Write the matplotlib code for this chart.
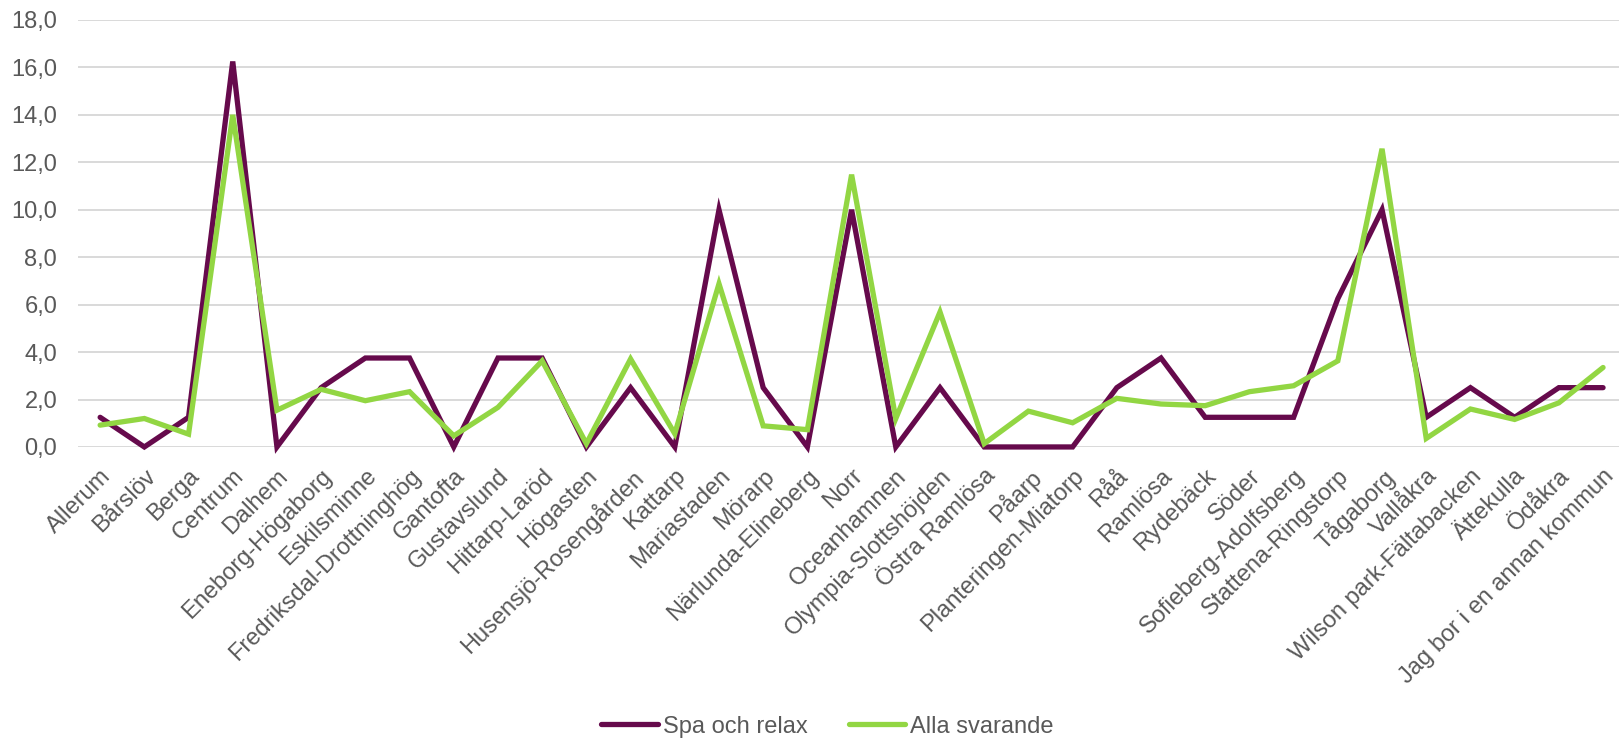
import matplotlib
matplotlib.use("Agg")
import matplotlib.pyplot as plt
from matplotlib.ticker import FuncFormatter, MultipleLocator

categories = ["Allerum", "Bårslöv", "Berga", "Centrum", "Dalhem", "Eneborg-Högaborg",
              "Eskilsminne", "Fredriksdal-Drottninghög", "Gantofta", "Gustavslund",
              "Hittarp-Laröd", "Högasten", "Husensjö-Rosengården", "Kattarp", "Mariastaden",
              "Mörarp", "Närlunda-Elineberg", "Norr", "Oceanhamnen", "Olympia-Slottshöjden",
              "Östra Ramlösa", "Påarp", "Planteringen-Miatorp", "Råå", "Ramlösa", "Rydebäck",
              "Söder", "Sofieberg-Adolfsberg", "Stattena-Ringstorp", "Tågaborg", "Vallåkra",
              "Wilson park-Fältabacken", "Ättekulla", "Ödåkra", "Jag bor i en annan kommun"]

spa_och_relax = [1.25, 0.0, 1.25, 16.25, 0.0, 2.5, 3.75, 3.75, 0.0, 3.75,
                 3.75, 0.0, 2.5, 0.0, 10.0, 2.5, 0.0, 10.0, 0.0, 2.5,
                 0.0, 0.0, 0.0, 2.5, 3.75, 1.25, 1.25, 1.25, 6.25, 10.0,
                 1.25, 2.5, 1.25, 2.5, 2.5]

alla_svarande = [0.92, 1.2, 0.54, 14.0, 1.55, 2.43, 1.95, 2.33, 0.47, 1.67,
                 3.63, 0.14, 3.71, 0.56, 6.88, 0.89, 0.73, 11.48, 1.2, 5.69,
                 0.14, 1.51, 1.02, 2.05, 1.81, 1.74, 2.33, 2.58, 3.63, 12.57,
                 0.36, 1.6, 1.16, 1.86, 3.35]

series_names = ["Spa och relax", "Alla svarande"]

plt.rcParams['font.family'] = ['Liberation Sans', 'DejaVu Sans']
text_color = "#595959"
fs = 17

fig = plt.figure(figsize=(16.19, 7.40), dpi=100)
ax = fig.add_axes([0.0482, 0.396, 0.9556, 0.577])

x = list(range(len(categories)))
ax.plot(x, spa_och_relax, color="#660A4C", lw=3.8, solid_joinstyle="miter",
        solid_capstyle="round", label=series_names[0], zorder=3, clip_on=False)
ax.plot(x, alla_svarande, color="#92D643", lw=3.8, solid_joinstyle="miter",
        solid_capstyle="round", label=series_names[1], zorder=4, clip_on=False)

ax.set_xlim(-0.5, len(categories) - 0.5)
ax.set_ylim(0, 18)
ax.yaxis.set_major_locator(MultipleLocator(2))
ax.yaxis.set_major_formatter(FuncFormatter(lambda v, p: f"{v:.1f}".replace(".", ",")))
ax.grid(axis="y", color="#D9D9D9", lw=1.4, zorder=0)
ax.set_axisbelow(True)
for s in ax.spines.values():
    s.set_visible(False)

ax.set_xticks(x)
ax.set_xticklabels(categories, rotation=45, ha="right", rotation_mode="anchor",
                   fontsize=fs, color=text_color)
ax.tick_params(axis="x", length=0, pad=13)
ax.tick_params(axis="y", length=0, pad=15, labelsize=fs, labelcolor=text_color)

leg = fig.legend(loc="center", bbox_to_anchor=(0.511, 0.018), ncol=2, frameon=False,
                 fontsize=fs, handlelength=2.4, handletextpad=0.2, columnspacing=1.75,
                 borderpad=0.0)
for t in leg.get_texts():
    t.set_color(text_color)

fig.savefig("out.png", dpi=100, facecolor="white")
